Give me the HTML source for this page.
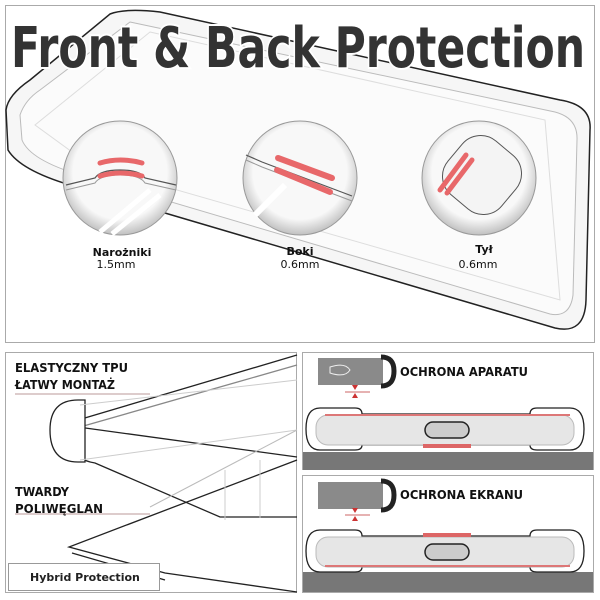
<!DOCTYPE html>
<html><head><meta charset="utf-8"><style>
html,body{margin:0;padding:0;background:#fff;width:600px;height:600px;overflow:hidden}
svg{display:block}
text{font-family:"DejaVu Sans","Liberation Sans",sans-serif}
</style></head><body>
<svg width="600" height="600" viewBox="0 0 600 600" xmlns="http://www.w3.org/2000/svg">
<rect x="0" y="0" width="600" height="600" fill="#fff"/>
<rect x="5.5" y="5.5" width="589" height="337" fill="#fff" stroke="#aaa"/>
<path d="M110,14 Q125,8 160,12 L560,100 Q592,105 590,130 L586,300 Q585,335 555,328 L70,185 Q20,170 8,150 L6,110 Q8,95 30,80 Z" fill="#f6f6f6" stroke="#222" stroke-width="1.5"/>
<path d="M130,22 L555,112 Q578,118 577,140 L573,295 Q570,318 550,314 L80,175 Q30,160 22,140 L20,115 Q25,100 40,90 Z" fill="#fbfbfb" stroke="#bbb" stroke-width="1"/>
<path d="M150,32 L545,120 L560,300 L90,165 L35,125 Z" fill="none" stroke="#ddd"/>
<defs>
<radialGradient id="g" cx="50%" cy="45%" r="55%"><stop offset="0.75" stop-color="#f8f8f8"/><stop offset="1" stop-color="#c0c0c0"/></radialGradient>
</defs>
<g>
<circle cx="120" cy="178" r="57" fill="url(#g)" stroke="#999"/>
<path d="M66,185 L95,178 Q100,170 120,170 Q140,170 145,178 L176,185" fill="none" stroke="#555" stroke-width="1.2"/>
<path d="M66,190 L95,183 Q100,175 120,175 Q140,175 145,183 L176,190" fill="none" stroke="#999"/>
<path d="M100,163 Q120,157 142,163" stroke="#e8686a" stroke-width="5" fill="none" stroke-linecap="round"/>
<path d="M100,176 Q120,170 142,176" stroke="#e8686a" stroke-width="5" fill="none" stroke-linecap="round"/>
<path d="M100,232 L150,190 M112,234 L160,195" stroke="#fff" stroke-width="5"/>
<circle cx="300" cy="178" r="57" fill="url(#g)" stroke="#999"/>
<path d="M246,155 L262,162 L352,196" stroke="#555" stroke-width="1.2" fill="none"/>
<path d="M246,160 L262,167 L352,201" stroke="#999" fill="none"/>
<path d="M278,158 L332,178" stroke="#e8686a" stroke-width="6" stroke-linecap="round"/>
<path d="M277,170 L330,192" stroke="#e8686a" stroke-width="6" stroke-linecap="round"/>
<path d="M255,215 L285,185" stroke="#fff" stroke-width="6"/>
<circle cx="479" cy="178" r="57" fill="url(#g)" stroke="#999"/>
<rect x="447" y="140" width="70" height="70" rx="24" transform="rotate(40 482 175)" fill="#f4f4f4" stroke="#555"/>
<path d="M440,190 L466,155" stroke="#e8686a" stroke-width="5" stroke-linecap="round"/>
<path d="M447,193 L472,160" stroke="#e8686a" stroke-width="5" stroke-linecap="round"/>
</g>
<text x="11" y="67" font-size="56" font-weight="bold" fill="#333" font-family="Liberation Sans,sans-serif" textLength="574" lengthAdjust="spacingAndGlyphs" stroke="#fff" stroke-width="4" paint-order="stroke">Front &amp; Back Protection</text>
<g font-size="11" font-weight="bold" fill="#111" text-anchor="middle">
<text x="122" y="256">Narożniki</text>
<text x="300" y="255">Boki</text>
<text x="484" y="253">Tył</text>
</g>
<g font-size="11" fill="#111" text-anchor="middle">
<text x="116" y="268">1.5mm</text>
<text x="300" y="268">0.6mm</text>
<text x="478" y="268">0.6mm</text>
</g>
<rect x="5.5" y="352.5" width="291" height="240" fill="#fff" stroke="#aaa"/>
<g stroke="#222" stroke-width="1.3" fill="none">
<path d="M78,420 L297,355"/>
<path d="M80,427 L297,365" stroke="#888"/>
<path d="M78,427 L297,457"/>
<path d="M75,445 Q75,460 95,463 L220,517 L297,517"/>
<path d="M297,460 L69,547 L165,573 L297,592"/>
<path d="M72,553 L165,580"/>
</g>
<path d="M78,400 Q50,400 50,430 Q50,462 78,462 L85,462 L85,400 Z" fill="#fff" stroke="#222" stroke-width="1.3"/>
<path d="M80,405 L297,380 M80,460 L297,430 M225,470 L225,520 M260,460 L260,518" stroke="#ccc" fill="none"/>
<path d="M150,507 L297,430" stroke="#bbb"/>
<line x1="15" y1="394" x2="150" y2="394" stroke="#b99"/>
<line x1="15" y1="514" x2="150" y2="514" stroke="#b99"/>
<g font-family="Liberation Sans,sans-serif" font-size="12" font-weight="bold" fill="#111">
<text x="15" y="372" textLength="113" lengthAdjust="spacingAndGlyphs">ELASTYCZNY TPU</text>
<text x="15" y="389" textLength="100" lengthAdjust="spacingAndGlyphs">ŁATWY MONTAŻ</text>
<text x="15" y="496" textLength="54" lengthAdjust="spacingAndGlyphs">TWARDY</text>
<text x="15" y="513" textLength="88" lengthAdjust="spacingAndGlyphs">POLIWĘGLAN</text>
</g>
<rect x="8.5" y="563.5" width="151" height="27" fill="#fff" stroke="#999"/>
<text x="30" y="581" font-size="11" font-weight="bold" fill="#222" font-family="Liberation Sans,sans-serif">Hybrid Protection</text>
<g>
<rect x="302.5" y="352.5" width="291" height="117" fill="#fff" stroke="#aaa"/>
<rect x="303" y="452" width="290" height="18" fill="#777"/>
<rect x="318" y="358" width="65" height="27" fill="#8a8a8a"/>
<path d="M381,357 Q394,357 394,371 Q394,386 381,386" fill="none" stroke="#222" stroke-width="5"/>
<path d="M330,367 Q345,362 350,370 Q345,378 330,373 Z" fill="none" stroke="#eee"/>
<line x1="345" y1="392" x2="370" y2="392" stroke="#c66"/>
<path d="M352,385 L358,385 L355,390 Z M352,398 L358,398 L355,393 Z" fill="#c33"/>
<text x="400" y="376" font-family="Liberation Sans,sans-serif" font-size="12" font-weight="bold" fill="#111" textLength="128" lengthAdjust="spacingAndGlyphs">OCHRONA APARATU</text>
<path d="M320,408 L355,408 Q362,408 362,414 L530,414 Q530,408 537,408 L570,408 Q584,408 584,429 Q584,450 570,450 L537,450 Q530,450 530,445 L362,445 Q362,450 355,450 L320,450 Q306,450 306,429 Q306,408 320,408 Z" fill="#fff" stroke="#222" stroke-width="1.3"/>
<rect x="316" y="415" width="258" height="30" rx="12" fill="#e6e6e6" stroke="#bbb"/>
<line x1="325" y1="415" x2="570" y2="415" stroke="#d77" stroke-width="2"/>
<rect x="425" y="422" width="44" height="16" rx="8" fill="#ccc" stroke="#222" stroke-width="1.5"/>
<rect x="423" y="444" width="48" height="4" fill="#d66"/>
</g>
<g>
<rect x="302.5" y="475.5" width="291" height="117" fill="#fff" stroke="#aaa"/>
<rect x="303" y="572" width="290" height="20" fill="#777"/>
<rect x="318" y="482" width="65" height="27" fill="#8a8a8a"/>
<path d="M381,481 Q394,481 394,495 Q394,510 381,510" fill="none" stroke="#222" stroke-width="5"/>
<line x1="345" y1="515" x2="370" y2="515" stroke="#c66"/>
<path d="M352,508 L358,508 L355,513 Z M352,521 L358,521 L355,516 Z" fill="#c33"/>
<text x="400" y="499" font-family="Liberation Sans,sans-serif" font-size="12" font-weight="bold" fill="#111" textLength="123" lengthAdjust="spacingAndGlyphs">OCHRONA EKRANU</text>
<path d="M320,530 L355,530 Q362,530 362,536 L530,536 Q530,530 537,530 L570,530 Q584,530 584,551 Q584,572 570,572 L537,572 Q530,572 530,567 L362,567 Q362,572 355,572 L320,572 Q306,572 306,551 Q306,530 320,530 Z" fill="#fff" stroke="#222" stroke-width="1.3"/>
<rect x="316" y="537" width="258" height="30" rx="12" fill="#e6e6e6" stroke="#bbb"/>
<line x1="325" y1="566" x2="570" y2="566" stroke="#d77" stroke-width="2"/>
<rect x="425" y="544" width="44" height="16" rx="8" fill="#ccc" stroke="#222" stroke-width="1.5"/>
<rect x="423" y="533" width="48" height="4" fill="#d66"/>
</g>
</svg>
</body></html>
